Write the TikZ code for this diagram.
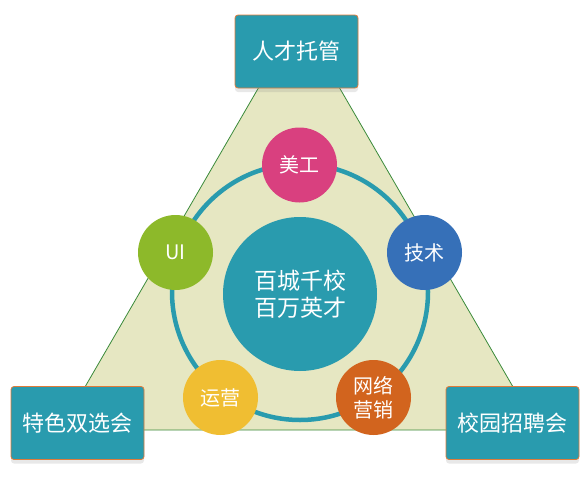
\documentclass[tikz,border=0pt]{standalone}
\usepackage{fontspec}
\setmainfont{Noto Sans CJK SC}
\usetikzlibrary{shadows}
\definecolor{tealc}{HTML}{299BAE}
\definecolor{boxedge}{HTML}{E07B39}
\definecolor{trifill}{HTML}{E6E7C2}
\definecolor{triedge}{HTML}{3A8A3A}
\definecolor{pinkc}{HTML}{D9407F}
\definecolor{greenc}{HTML}{8DB92A}
\definecolor{bluec}{HTML}{3670B8}
\definecolor{yellowc}{HTML}{F0BE32}
\definecolor{orangec}{HTML}{D2641E}
\begin{document}
\begin{tikzpicture}[
  x=1pt, y=-1pt,
  event/.style={rectangle, draw=boxedge, line width=0.8pt, fill=tealc,
                rounded corners=3pt, minimum width=123pt, minimum height=73pt,
                text=white, font=\fontsize{22}{26}\selectfont,
                drop shadow={opacity=0.18, shadow xshift=0pt, shadow yshift=-4pt}},
  skill/.style={circle, minimum size=75pt, inner sep=0pt, text=white,
                align=center, font=\fontsize{20}{24}\selectfont},
  hub/.style={circle, fill=tealc, minimum size=154pt, inner sep=0pt,
              text=white, align=center, font=\fontsize{23}{27}\selectfont},
  ring/.style={draw=tealc, line width=4.5pt}
]
  \useasboundingbox (0,0) rectangle (586,479);

  % triangle
  \coordinate (tA) at (299,18);
  \coordinate (tB) at (60,430);
  \coordinate (tC) at (538,430);
  \filldraw[fill=trifill, draw=triedge, line width=0.8pt] (tA) -- (tB) -- (tC) -- cycle;

  % ring and hub
  \coordinate (mid) at (300,292);
  \draw[ring] (mid) circle[radius=128pt];
  \node[hub] (hub) at (300,294) {百城千校\\百万英才};

  % skills
  \node[skill, fill=pinkc] (art) at (299.5,165) {美工};
  \node[skill, fill=greenc] (ui) at (175.5,252.5) {UI};
  \node[skill, fill=bluec] (tech) at (424.5,252.5) {技术};
  \node[skill, fill=yellowc] (ops) at (220.5,397.5) {运营};
  \node[skill, fill=orangec] (mkt) at (373.5,397.5) {网络\\营销};

  % corner boxes
  \node[event] (talent) at (296.5,51.5) {人才托管};
  \node[event, minimum width=133pt] (fair) at (77.5,423) {特色双选会};
  \node[event, minimum width=133pt] (campus) at (512.5,423) {校园招聘会};
\end{tikzpicture}
\end{document}
